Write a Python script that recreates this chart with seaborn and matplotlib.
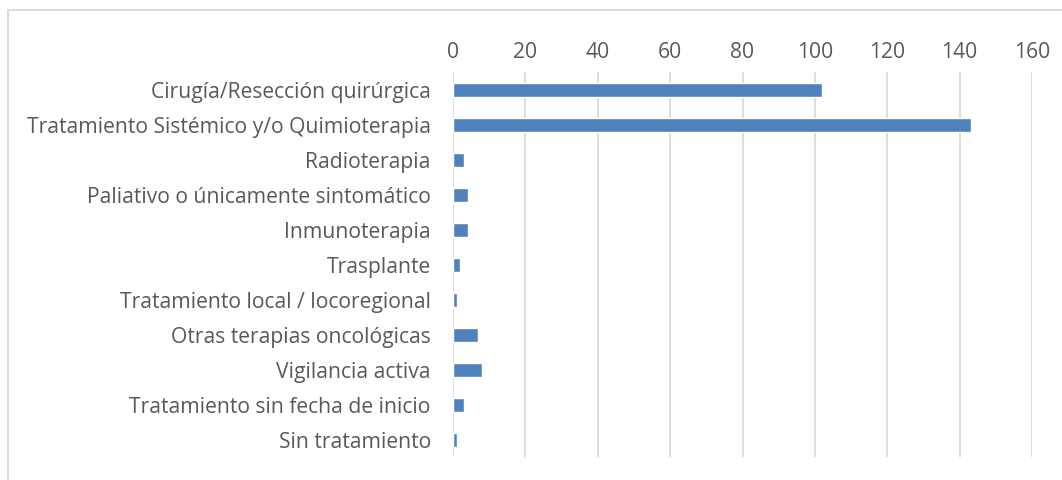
import matplotlib
matplotlib.use('Agg')
import matplotlib.pyplot as plt
import pandas as pd
import seaborn as sns
from matplotlib.patches import Rectangle

# datos
categorias = ['Cirugía/Resección quirúrgica',
              'Tratamiento Sistémico y/o Quimioterapia',
              'Radioterapia',
              'Paliativo o únicamente sintomático',
              'Inmunoterapia',
              'Trasplante',
              'Tratamiento local / locoregional',
              'Otras terapias oncológicas',
              'Vigilancia activa',
              'Tratamiento sin fecha de inicio',
              'Sin tratamiento']
valores = [102, 143, 3, 4, 4, 2, 1, 7, 8, 3, 1]
ticks = [0, 20, 40, 60, 80, 100, 120, 140, 160]

df = pd.DataFrame({'Tratamiento': categorias, 'Pacientes': valores})

sns.set_style('white')
plt.rcParams['font.family'] = ['Open Sans', 'DejaVu Sans']

fig = plt.figure(figsize=(10.62, 4.8), dpi=100)
ax = fig.add_axes([0.4266, 0.047, 0.5452, 0.802])

sns.barplot(data=df, y='Tratamiento', x='Pacientes', color='#4f81bd',
            width=0.40, saturation=1, ax=ax, orient='h')

ax.set_xlim(0, 160)
ax.set_xticks(ticks)
ax.xaxis.tick_top()
ax.tick_params(axis='x', length=0, labelsize=15.2, colors='#595959', pad=7)
ax.tick_params(axis='y', length=0, labelsize=15.2, colors='#595959', pad=16)
ax.set_xlabel('')
ax.set_ylabel('')
ax.grid(axis='x', color='#d9d9d9', linewidth=1.3)
ax.set_axisbelow(True)
for s in ax.spines.values():
    s.set_visible(False)

# marco del gráfico
fig.patches.append(Rectangle((8 / 1062, -0.1), 1.2, 1 - 10 / 480 + 0.1,
                             transform=fig.transFigure, fill=False,
                             edgecolor='#d9d9d9', linewidth=1.3))

fig.savefig('out.png', dpi=100)
